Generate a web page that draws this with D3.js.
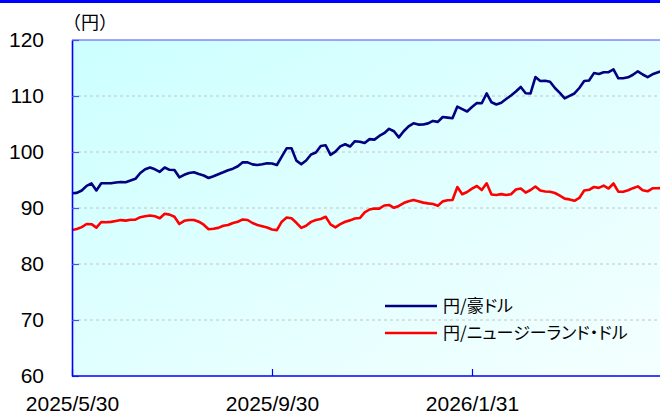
<!DOCTYPE html>
<html>
<head>
<meta charset="utf-8">
<script src="https://cdn.jsdelivr.net/npm/d3@7"></script>
<style>
  body { margin: 0; background: #fff; }
  svg { display: block; }
</style>
</head>
<body>
<svg id="chart"></svg>
<script>
// dates (every 3 days)
const dates = [
  "2025-05-30","2025-06-02","2025-06-05","2025-06-08","2025-06-11","2025-06-14","2025-06-17","2025-06-20","2025-06-23","2025-06-26",
  "2025-06-29","2025-07-02","2025-07-05","2025-07-08","2025-07-11","2025-07-14","2025-07-17","2025-07-20","2025-07-23","2025-07-26",
  "2025-07-29","2025-08-01","2025-08-04","2025-08-07","2025-08-10","2025-08-13","2025-08-16","2025-08-19","2025-08-22","2025-08-25",
  "2025-08-28","2025-08-31","2025-09-03","2025-09-06","2025-09-09","2025-09-12","2025-09-15","2025-09-18","2025-09-21","2025-09-24",
  "2025-09-27","2025-09-30","2025-10-03","2025-10-06","2025-10-09","2025-10-12","2025-10-15","2025-10-18","2025-10-21","2025-10-24",
  "2025-10-27","2025-10-30","2025-11-02","2025-11-05","2025-11-08","2025-11-11","2025-11-14","2025-11-17","2025-11-20","2025-11-23",
  "2025-11-26","2025-11-29","2025-12-02","2025-12-05","2025-12-08","2025-12-11","2025-12-14","2025-12-17","2025-12-20","2025-12-23",
  "2025-12-26","2025-12-29","2026-01-01","2026-01-04","2026-01-07","2026-01-10","2026-01-13","2026-01-16","2026-01-19","2026-01-22",
  "2026-01-25","2026-01-28","2026-01-31","2026-02-03","2026-02-06","2026-02-09","2026-02-12","2026-02-15","2026-02-18","2026-02-21",
  "2026-02-24","2026-02-27","2026-03-02","2026-03-05","2026-03-08","2026-03-11","2026-03-14","2026-03-17","2026-03-20","2026-03-23",
  "2026-03-26","2026-03-29","2026-04-01","2026-04-04","2026-04-07","2026-04-10","2026-04-13","2026-04-16","2026-04-19","2026-04-22",
  "2026-04-25","2026-04-28","2026-05-01","2026-05-04","2026-05-07","2026-05-10","2026-05-13","2026-05-16","2026-05-19","2026-05-22",
  "2026-05-25","2026-05-28"
];

// 円/豪ドル
const audJpy = [
  92.63,92.70,93.13,93.95,94.39,93.14,94.41,94.41,94.41,94.55,
  94.64,94.61,94.91,95.21,96.25,96.93,97.23,96.91,96.46,97.23,
  96.82,96.79,95.48,95.93,96.25,96.38,96.07,95.80,95.36,95.68,
  96.04,96.38,96.75,97.02,97.45,98.18,98.14,97.79,97.68,97.80,
  97.98,97.95,97.68,99.16,100.66,100.66,98.46,97.80,98.48,99.55,
  99.91,101.07,101.21,99.50,100.07,101.00,101.39,100.98,101.93,101.84,
  101.61,102.30,102.21,102.86,103.36,104.14,103.71,102.61,103.70,104.59,
  105.13,104.89,104.91,105.11,105.55,105.38,106.25,106.14,106.02,108.11,
  107.66,107.23,108.04,108.75,108.70,110.45,108.88,108.48,108.79,109.45,
  110.09,110.80,111.61,110.48,110.45,113.39,112.68,112.71,112.55,111.43,
  110.57,109.57,110.02,110.45,111.43,112.68,112.77,114.09,113.93,114.23,
  114.25,114.77,113.16,113.16,113.34,113.79,114.41,113.84,113.36,113.88,
  114.20,114.46
];

// 円/ニュージーランド・ドル
const nzdJpy = [
  86.07,86.25,86.59,87.14,87.11,86.50,87.50,87.45,87.52,87.68,
  87.84,87.75,87.91,87.93,88.36,88.54,88.66,88.54,88.18,88.96,
  88.82,88.45,87.14,87.71,87.87,87.87,87.55,87.02,86.20,86.29,
  86.45,86.82,86.96,87.32,87.55,87.96,87.86,87.32,86.96,86.75,
  86.52,86.16,86.05,87.55,88.29,88.16,87.36,86.45,86.82,87.52,
  87.86,88.04,88.43,87.07,86.55,87.11,87.55,87.79,88.13,88.21,
  89.20,89.73,89.91,89.88,90.45,90.54,90.04,90.36,90.88,91.20,
  91.43,91.20,90.96,90.82,90.71,90.39,91.18,91.38,91.43,93.75,
  92.45,92.86,93.45,93.93,93.21,94.41,92.41,92.32,92.48,92.32,
  92.46,93.30,93.48,92.75,93.21,93.84,93.11,92.95,92.89,92.68,
  92.21,91.68,91.54,91.29,91.79,93.13,93.25,93.75,93.59,94.00,
  93.48,94.38,92.91,92.91,93.16,93.54,93.86,93.18,92.98,93.52,
  93.54,93.57
];

const seriesNames = ["円/豪ドル", "円/ニュージーランド・ドル"];
const seriesColors = ["#000080", "#ff0000"];
const yTicks = [60, 70, 80, 90, 100, 110, 120];
const gridTicks = [70, 80, 90, 100, 110];
const xTickDates = ["2025-05-30", "2025-09-30", "2026-01-31"];
const xTickLabels = ["2025/5/30", "2025/9/30", "2026/1/31"];

const svgWidth = 660;
const svgHeight = 414;
const padding = { top: 40, right: -40, bottom: 38, left: 72 }; // plot runs past the right edge
const plotRight = svgWidth - padding.right;
const plotBottom = svgHeight - padding.bottom;
const numFont = "'Liberation Sans', Arial, sans-serif";
const jpFont = "'Noto Sans CJK JP', sans-serif";

const parseDate = d3.timeParse("%Y-%m-%d");

const svg = d3.select("#chart")
    .attr("width", svgWidth)
    .attr("height", svgHeight);

// blue bar across the top
svg.append("rect")
    .attr("x", 0).attr("y", 0)
    .attr("width", svgWidth).attr("height", 3)
    .attr("fill", "#0000ff");

// plot background gradient
const defs = svg.append("defs");
const grad = defs.append("linearGradient")
    .attr("id", "bg-grad")
    .attr("x1", "0%").attr("y1", "0%")
    .attr("x2", "100%").attr("y2", "100%");
grad.append("stop").attr("offset", "0%").attr("stop-color", "#ccffff");
grad.append("stop").attr("offset", "100%").attr("stop-color", "#f6ffff");

svg.append("rect")
    .attr("x", padding.left).attr("y", padding.top)
    .attr("width", plotRight - padding.left)
    .attr("height", plotBottom - padding.top)
    .attr("fill", "url(#bg-grad)");

// scales
const xScale = d3.scaleTime()
    .domain([parseDate("2025-05-30"), parseDate("2026-01-31")])
    .range([padding.left, 472]);

const yScale = d3.scaleLinear()
    .domain([60, 120])
    .range([plotBottom, padding.top]);

// dashed gridlines
svg.append("g")
    .attr("class", "grid")
    .selectAll("line")
    .data(gridTicks)
    .enter().append("line")
    .attr("x1", padding.left)
    .attr("x2", plotRight)
    .attr("y1", d => yScale(d))
    .attr("y2", d => yScale(d))
    .attr("stroke", "#c4c4c4")
    .attr("stroke-width", 1)
    .attr("stroke-dasharray", "3,3");

// top border of the plot
svg.append("line")
    .attr("x1", padding.left).attr("x2", plotRight)
    .attr("y1", padding.top).attr("y2", padding.top)
    .attr("stroke", "#4d4dff")
    .attr("stroke-width", 1.2);

// lines
const lineGen = d3.line()
    .x((d, i) => xScale(parseDate(dates[i])))
    .y(d => yScale(d));

[audJpy, nzdJpy].forEach((values, s) => {
    svg.append("path")
        .datum(values)
        .attr("d", lineGen)
        .attr("fill", "none")
        .attr("stroke", seriesColors[s])
        .attr("stroke-width", 2.6)
        .attr("stroke-linejoin", "round");
});

// y axis
const yAxis = d3.axisLeft(yScale)
    .tickValues(yTicks)
    .tickSizeInner(-7)
    .tickSizeOuter(0)
    .tickPadding(28);

const yG = svg.append("g")
    .attr("transform", `translate(${padding.left}, 0)`)
    .call(yAxis);
yG.select(".domain").attr("stroke", "#0000ff").attr("stroke-width", 1.6);
yG.selectAll(".tick line").attr("stroke", "#4d4dff").attr("stroke-width", 1.2);
yG.selectAll("text")
    .attr("fill", "#000")
    .style("font-family", numFont)
    .style("font-size", "21px");

// x axis
const xAxis = d3.axisBottom(xScale)
    .tickValues(xTickDates.map(parseDate))
    .tickFormat((d, i) => xTickLabels[i])
    .tickSizeInner(-7)
    .tickSizeOuter(0)
    .tickPadding(20);

const xG = svg.append("g")
    .attr("transform", `translate(0, ${plotBottom})`)
    .call(xAxis);
xG.select(".domain")
    .attr("d", `M${padding.left},0H${plotRight}`)
    .attr("stroke", "#0000ff").attr("stroke-width", 1.6);
xG.selectAll(".tick line").attr("stroke", "#0000ff").attr("stroke-width", 1.2);
xG.selectAll("text")
    .attr("fill", "#000")
    .style("font-family", numFont)
    .style("font-size", "21px");

// unit label
svg.append("text")
    .attr("x", 63)
    .attr("y", 29)
    .style("font-family", jpFont)
    .style("font-size", "18px")
    .style("fill", "#000")
    .text("（円）");

// legend
const legend = svg.append("g").attr("class", "legend");
seriesNames.forEach((name, i) => {
    const ly = 306 + i * 27;
    legend.append("line")
        .attr("x1", 385).attr("x2", 437)
        .attr("y1", ly).attr("y2", ly)
        .attr("stroke", seriesColors[i])
        .attr("stroke-width", 2.6);
    legend.append("text")
        .attr("x", 443)
        .attr("y", ly)
        .attr("dy", "0.36em")
        .style("font-family", jpFont)
        .style("font-size", "17px")
        .style("font-feature-settings", "'palt'")
        .style("fill", "#000")
        .text(name);
});
</script>
</body>
</html>
